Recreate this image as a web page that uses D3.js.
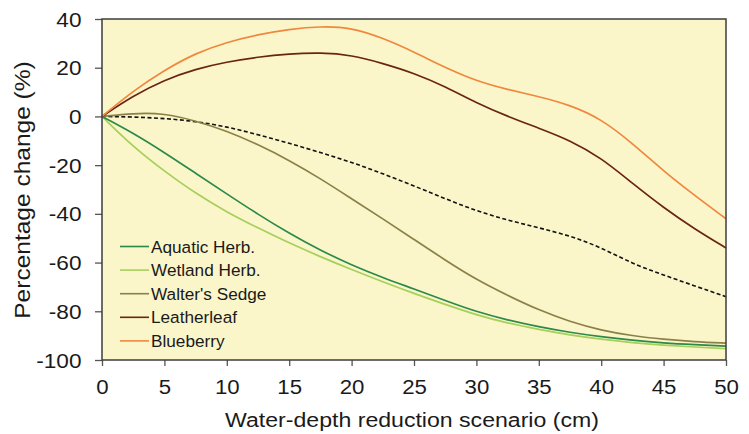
<!DOCTYPE html>
<html>
<head>
<meta charset="utf-8">
<script src="https://cdn.jsdelivr.net/npm/d3@7"></script>
<style>
  html, body { margin: 0; padding: 0; background: #ffffff; }
  svg { display: block; font-family: "Liberation Sans", Arial, sans-serif; }
</style>
</head>
<body>
<svg id="chart" width="749" height="434"></svg>
<script>
// ---- data ----
const depths = [0, 2.5, 5, 7.5, 10, 12.5, 15, 17.5, 20, 22.5, 25, 27.5, 30, 32.5, 35, 37.5, 40, 42.5, 45, 47.5, 50];
const aquaticHerb = [0, -6.8, -14.8, -23.3, -31.8, -40.2, -48, -55, -61, -66.2, -70.8, -75.6, -80.2, -83.6, -86.4, -88.7, -90.5, -91.9, -93, -93.7, -94.3];
const wetlandHerb = [0, -12.5, -22.5, -31.6, -39.3, -45.8, -52, -57.6, -62.9, -67.9, -72.7, -77.2, -81.5, -84.9, -87.5, -89.8, -91.5, -92.9, -93.9, -94.7, -95.3];
const waltersSedge = [0, 1.3, 1.3, -1.8, -6, -11.5, -18, -25.5, -33.8, -42, -50.5, -59, -67, -73.5, -79.5, -84.3, -87.8, -90.1, -91.5, -92.5, -93.1];
const leatherleaf = [0, 8.5, 15, 19.5, 22.4, 24.4, 25.7, 26.2, 25.2, 21.8, 17.8, 12.3, 5.5, 0, -4.8, -9.8, -17, -27.5, -37.5, -46.3, -54];
const blueberry = [0, 10.5, 19, 26, 30.5, 33.6, 35.8, 37, 36.5, 32.2, 26.5, 20, 14.5, 11, 8.2, 4.7, -1, -11, -22.5, -32.5, -42];
const overallMean = [0, -0.2, -0.8, -2, -4.2, -7.5, -11, -14.8, -18.8, -23.5, -28.5, -33.8, -38.8, -42.6, -45.7, -49, -53.8, -60.5, -65.1, -69.6, -74];

const seriesNames = ["Aquatic Herb.", "Wetland Herb.", "Walter's Sedge", "Leatherleaf", "Blueberry"];
const seriesValues = [aquaticHerb, wetlandHerb, waltersSedge, leatherleaf, blueberry];
const seriesColors = ["#2b8a48", "#a6cf5c", "#8c8049", "#6a2512", "#f0873f"];

const xTicks = [0, 5, 10, 15, 20, 25, 30, 35, 40, 45, 50];
const yTicks = [40, 20, 0, -20, -40, -60, -80, -100];
const xTitle = "Water-depth reduction scenario (cm)";
const yTitle = "Percentage change (%)";

// ---- layout ----
const svg = d3.select("#chart");
const L = 102, R = 726, T = 19, B = 360;

const x = d3.scaleLinear().domain([0, 50]).range([L, R]);
const y = d3.scaleLinear().domain([-100, 40]).range([B, T]);

// background
svg.append("rect").attr("x", L).attr("y", T).attr("width", R - L).attr("height", B - T)
  .attr("fill", "#faf6c9");

function stretch(sel, k) {
  sel.each(function () {
    const t = d3.select(this);
    const tx = +t.attr("x") || 0, ty = +t.attr("y") || 0;
    t.attr("x", 0).attr("y", 0).attr("transform", `translate(${tx},${ty}) scale(${k},1)`);
  });
}
const fmt = d => String(d);

// axes
const xAxis = svg.append("g").attr("transform", `translate(0,${B})`)
  .call(d3.axisBottom(x).tickValues(xTicks).tickSize(6).tickSizeOuter(0).tickFormat(fmt));
xAxis.select(".domain").remove();
xAxis.selectAll(".tick line").attr("stroke", "#555").attr("stroke-width", 1.3);
xAxis.selectAll(".tick text").attr("y", 34).attr("dy", 0)
  .attr("font-size", 19.5).attr("fill", "#1a1a1a").attr("font-family", "Liberation Sans, Arial, sans-serif");
stretch(xAxis.selectAll(".tick text"), 1.14);

const yAxis = svg.append("g").attr("transform", `translate(${L},0)`)
  .call(d3.axisLeft(y).tickValues(yTicks).tickSize(7).tickSizeOuter(0).tickFormat(fmt));
yAxis.select(".domain").remove();
yAxis.selectAll(".tick line").attr("stroke", "#555").attr("stroke-width", 1.3);
yAxis.selectAll(".tick text").attr("x", -20.5).attr("dy", "0.36em")
  .attr("font-size", 19.5).attr("fill", "#1a1a1a").attr("font-family", "Liberation Sans, Arial, sans-serif");
stretch(yAxis.selectAll(".tick text"), 1.16);

// lines
const line = d3.line()
  .x((d, i) => x(depths[i]))
  .y(d => y(d))
  .curve(d3.curveBasis);

const plot = svg.append("g");
plot.append("path").datum(overallMean)
  .attr("d", line).attr("fill", "none").attr("stroke", "#111")
  .attr("stroke-width", 1.6).attr("stroke-dasharray", "4,2.5");

const drawOrder = [2, 1, 0, 3, 4];
drawOrder.forEach(i => {
  plot.append("path").datum(seriesValues[i])
    .attr("d", line).attr("fill", "none").attr("stroke", seriesColors[i])
    .attr("stroke-width", 1.7);
});

// frame
svg.append("rect").attr("x", L).attr("y", T).attr("width", R - L).attr("height", B - T)
  .attr("fill", "none").attr("stroke", "#3c3c3c").attr("stroke-width", 1.5);

// legend
const legend = svg.append("g");
seriesNames.forEach((name, i) => {
  const ly = 246.5 + i * 23.6;
  legend.append("line").attr("x1", 120).attr("x2", 149).attr("y1", ly).attr("y2", ly)
    .attr("stroke", seriesColors[i]).attr("stroke-width", 1.6);
  legend.append("text").attr("x", 151).attr("y", ly).attr("dy", "0.36em")
    .attr("font-size", 17.2).attr("fill", "#1a1a1a").text(name);
});

// axis titles
svg.append("text")
  .attr("transform", `translate(412,426.5) scale(1.1,1)`)
  .attr("text-anchor", "middle").attr("font-size", 21).attr("fill", "#1a1a1a")
  .text(xTitle);

svg.append("text")
  .attr("transform", `translate(29.5,190) rotate(-90) scale(1.09,1)`)
  .attr("text-anchor", "middle").attr("font-size", 22.5).attr("fill", "#1a1a1a")
  .text(yTitle);
</script>
</body>
</html>
